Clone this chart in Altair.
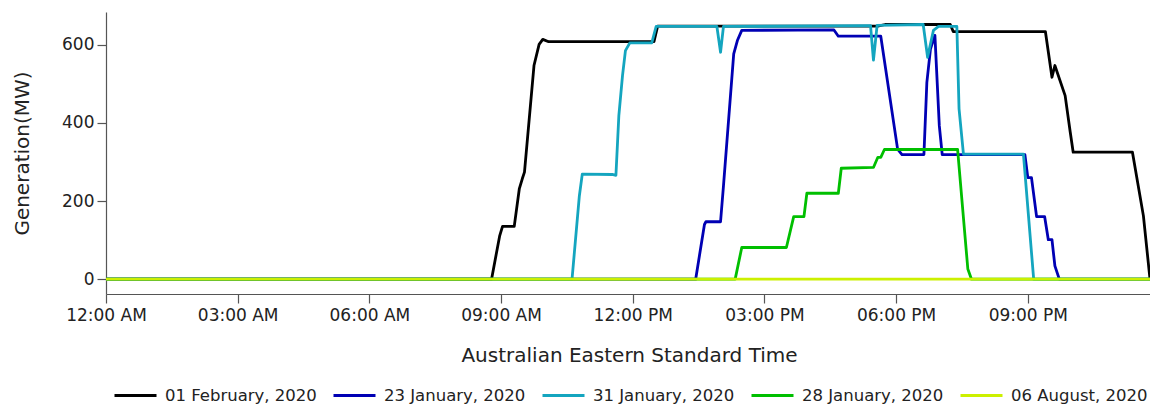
import altair as alt
import pandas as pd

series_names = ["01 February, 2020", "23 January, 2020", "31 January, 2020",
                "28 January, 2020", "06 August, 2020"]
series_colors = ["#000000", "#0000b4", "#14a5bf", "#00bf00", "#ccf000"]

feb01_times = ["00:00", "08:47", "08:58", "09:02", "09:18", "09:25", "09:29", "09:32",
               "09:45", "09:52", "09:57", "10:05", "12:29", "12:34", "17:35", "17:45",
               "19:14", "19:18", "21:24", "21:33", "21:37", "21:51", "21:58", "22:02",
               "23:23", "23:38", "23:47"]
feb01_mw = [0, 0, 110, 135, 135, 232, 257, 274, 547, 601, 614, 608, 608, 648, 648, 652,
            652, 634, 634, 517, 547, 470, 376, 325, 325, 162, 0]

jan23_times = ["00:00", "13:26", "13:38", "13:40", "14:00", "14:04", "14:18", "14:23",
               "14:29", "16:35", "16:41", "17:39", "18:02", "18:08", "18:38", "18:42",
               "18:47", "18:53", "18:59", "19:03", "20:56", "21:00", "21:05", "21:12",
               "21:23", "21:28", "21:33", "21:37", "21:43", "23:47"]
jan23_mw = [0, 0, 140, 147, 147, 239, 577, 611, 637, 638, 622, 622, 333, 319, 319, 504,
            590, 624, 393, 319, 319, 260, 260, 160, 160, 101, 101, 34, 0, 0]

jan31_times = ["00:00", "10:37", "10:47", "10:51", "11:32", "11:37", "11:41", "11:46",
               "11:50", "11:56", "12:26", "12:32", "13:55", "14:00", "14:04", "17:25",
               "17:29", "17:34", "18:37", "18:43", "18:51", "18:58", "19:23", "19:26",
               "19:32", "20:54", "21:08", "23:47"]
jan31_mw = [0, 0, 213, 269, 268, 266, 419, 521, 585, 605, 605, 647, 647, 581, 647, 649,
            561, 650, 652, 568, 637, 647, 647, 436, 320, 320, 0, 0]

jan28_times = ["00:00", "14:20", "14:29", "15:30", "15:40", "15:54", "15:58", "16:41",
               "16:45", "17:29", "17:35", "17:39", "17:44", "19:24", "19:38", "19:43",
               "23:47"]
jan28_mw = [0, 0, 81, 81, 160, 160, 220, 220, 284, 286, 312, 312, 332, 332, 26, 0, 0]

aug06_times = ["00:00", "23:47"]
aug06_mw = [0, 0]

x_ticks = [0, 3, 6, 9, 12, 15, 18, 21]
y_ticks = [0, 200, 400, 600]


def to_hours(s):
    h, m = s.split(":")
    return int(h) + int(m) / 60.0


all_series = [
    (series_names[0], feb01_times, feb01_mw),
    (series_names[1], jan23_times, jan23_mw),
    (series_names[2], jan31_times, jan31_mw),
    (series_names[3], jan28_times, jan28_mw),
    (series_names[4], aug06_times, aug06_mw),
]

rows = []
for name, times, vals in all_series:
    for t, v in zip(times, vals):
        rows.append({"series": name, "hour": to_hours(t), "mw": v})
df = pd.DataFrame(rows)

x_enc = alt.X(
    "hour:Q",
    scale=alt.Scale(domain=[0, to_hours("23:47")], nice=False, zero=False),
    axis=alt.Axis(
        values=x_ticks,
        labelExpr="timeFormat(datetime(2020, 0, 1, datum.value, 0), '%I:%M %p')",
        title="Australian Eastern Standard Time",
        titleX=523, titleY=61, titleAlign="center", titleBaseline="middle",
        tickSize=9, labelPadding=4, grid=False, labelFlush=False, labelOverlap=False,
    ),
)
y_enc = alt.Y(
    "mw:Q",
    scale=alt.Scale(domain=[-38, 684], nice=False, zero=False),
    axis=alt.Axis(
        values=y_ticks,
        title="Generation(MW)",
        titleX=-84, titleY=141, titleAngle=270, titleAlign="center",
        titleBaseline="middle",
        tickSize=9, labelPadding=3, grid=False, labelFlush=False,
    ),
)
color_enc = alt.Color(
    "series:N",
    scale=alt.Scale(domain=series_names, range=series_colors),
    legend=alt.Legend(
        title=None, orient="none", direction="horizontal", columns=5,
        legendX=7, legendY=361, symbolType="stroke", symbolSize=1764,
        symbolStrokeWidth=3, labelFontSize=16.5, labelOffset=7,
        columnPadding=10, labelLimit=300, labelColor="#222222",
    ),
)

layers = []
for name in series_names:
    layers.append(
        alt.Chart(df)
        .transform_filter(alt.datum.series == name)
        .mark_line(strokeWidth=2.8, strokeJoin="round")
        .encode(x=x_enc, y=y_enc, color=color_enc)
    )

chart = (
    alt.layer(*layers)
    .properties(
        width=1044, height=282,
        autosize=alt.AutoSizeParams(type="none"),
        padding={"left": 98, "top": 4, "right": 0, "bottom": 110},
    )
    .configure(font="DejaVu Sans")
    .configure_view(stroke="transparent")
    .configure_axis(
        labelFontSize=17, titleFontSize=20, titleFontWeight="normal",
        labelColor="#222222", titleColor="#222222",
        domainColor="#555555", tickColor="#555555",
        domainWidth=1.2, tickWidth=1.2, labelFont="DejaVu Sans", titleFont="DejaVu Sans",
    )
    .configure_legend(labelFont="DejaVu Sans")
)

chart.save("out.html", embed_options={"renderer": "svg", "actions": False})
